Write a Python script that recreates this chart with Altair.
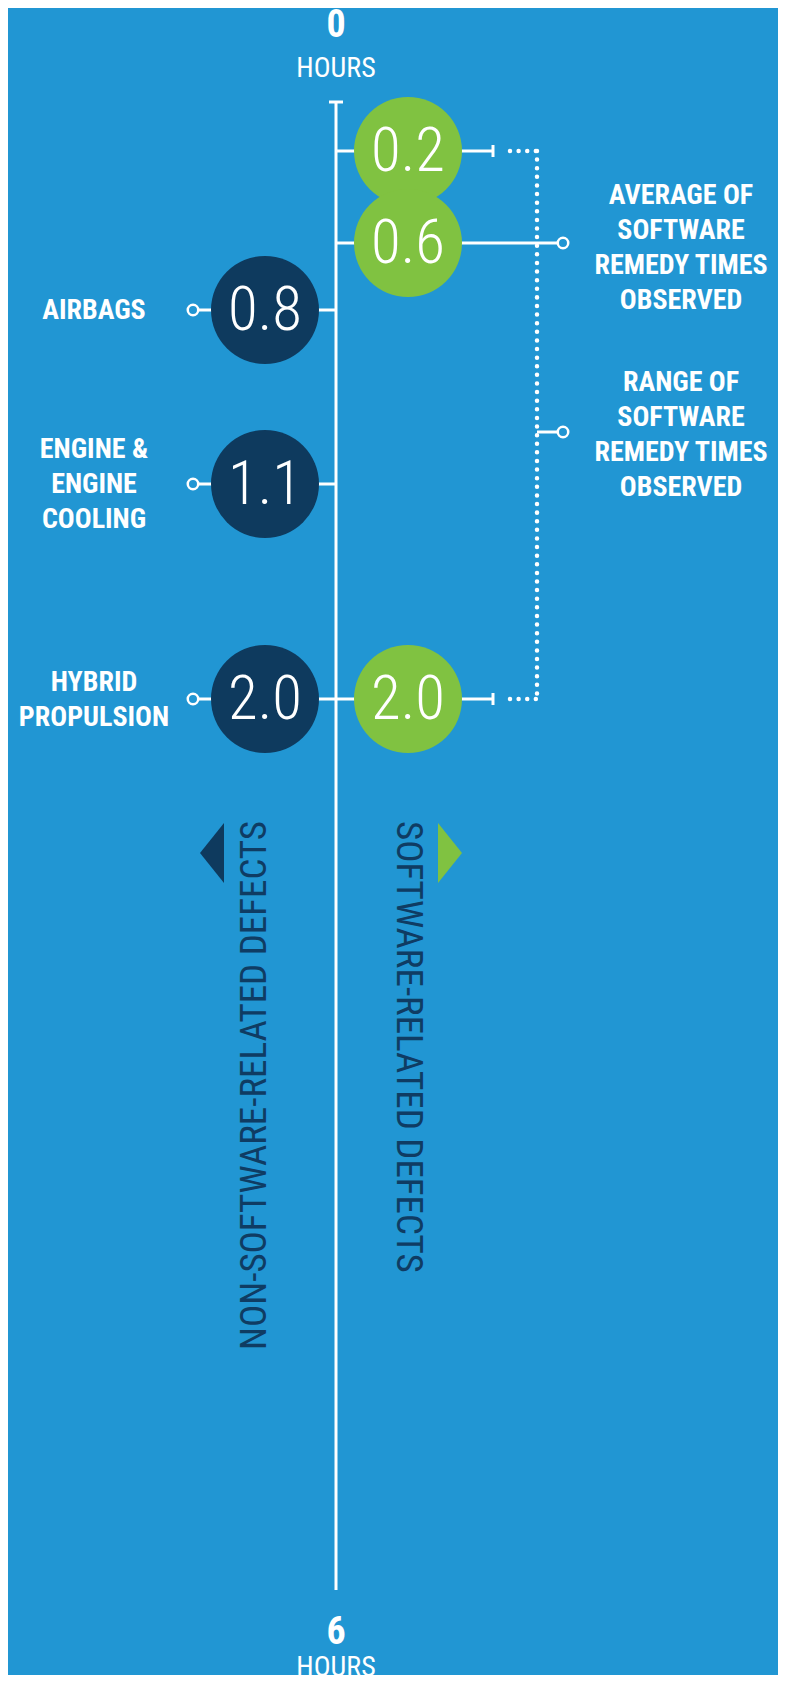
import altair as alt
import pandas as pd

# ---- data ----
non_sw_labels = ["AIRBAGS", "ENGINE &\nENGINE\nCOOLING", "HYBRID\nPROPULSION"]
non_sw_values = [0.8, 1.1, 2.0]
sw_values = [0.2, 0.6, 2.0]
sw_roles = ["min", "avg", "max"]
axis_ends = [0, 6]
axis_end_labels = ["0", "6"]
unit_label = "HOURS"
avg_note = "AVERAGE OF\nSOFTWARE\nREMEDY TIMES\nOBSERVED"
range_note = "RANGE OF\nSOFTWARE\nREMEDY TIMES\nOBSERVED"
left_title = "NON-SOFTWARE-RELATED DEFECTS"
right_title = "SOFTWARE-RELATED DEFECTS"

# ---- styles ----
BG = "#2196d3"
NAVY = "#0e3a5e"
GREEN = "#80c241"
TITLE_C = "#0f3c63"
COND = "Roboto Condensed, DejaVu Sans Condensed, Liberation Sans Narrow, Roboto, sans-serif"
LH = 35
CIRCLE = 11664   # Vega circle: diameter = sqrt(size)
DOT = 110

yscale = alt.Scale(domain=[0, 0.2, 0.6, 0.8, 1.1, 2.0, 6],
                   range=[94, 143, 235, 302, 476, 691, 1582],
                   zero=False, nice=False)


def Y(f="v"):
    return alt.Y(f"{f}:Q", scale=yscale, axis=None)


def block_dy(text):
    return -(text.count("\n")) * LH / 2


axis_df = pd.DataFrame({"v": [axis_ends[0]], "v2": [axis_ends[1]]})
ends_df = pd.DataFrame({"v": axis_ends, "label": axis_end_labels, "unit": [unit_label] * 2})
ns_df = pd.DataFrame({"v": non_sw_values, "label": non_sw_labels})
sw_df = pd.DataFrame({"v": sw_values, "role": sw_roles})
rng_df = pd.DataFrame({"v": [min(sw_values)], "v2": [max(sw_values)]})
note_df = pd.DataFrame({"avg": [avg_note], "rng": [range_note],
                        "lt": [left_title], "rt": [right_title]})

layers = []

# axis
layers.append(alt.Chart(axis_df).mark_rule(color="white", strokeWidth=3).encode(
    x=alt.value(328), y=Y(), y2="v2:Q"))
layers.append(alt.Chart(axis_df).mark_rule(color="white", strokeWidth=3).encode(
    x=alt.value(321), x2=alt.value(335), y=Y()))

# end labels
top = alt.Chart(ends_df).transform_filter("datum.v == 0")
bot = alt.Chart(ends_df).transform_filter("datum.v == 6")
layers.append(top.mark_text(font=COND, fontWeight="bold", fontSize=38, color="white",
                            baseline="middle", dy=-76).encode(x=alt.value(328), y=Y(), text="label:N"))
layers.append(top.mark_text(font=COND, fontSize=28, color="white",
                            baseline="middle", dy=-33).encode(x=alt.value(328), y=Y(), text="unit:N"))
layers.append(bot.mark_text(font=COND, fontWeight="bold", fontSize=38, color="white",
                            baseline="middle", dy=43).encode(x=alt.value(328), y=Y(), text="label:N"))
layers.append(bot.mark_text(font=COND, fontSize=28, color="white",
                            baseline="middle", dy=78).encode(x=alt.value(328), y=Y(), text="unit:N"))

# non-software side
ns = alt.Chart(ns_df)
layers.append(ns.mark_rule(color="white", strokeWidth=3).encode(
    x=alt.value(185), x2=alt.value(328), y=Y()))
layers.append(ns.mark_circle(size=CIRCLE, color=NAVY, opacity=1).encode(x=alt.value(257), y=Y()))
layers.append(ns.mark_text(font=COND, fontWeight=300, fontSize=61, color="white",
                           baseline="middle", dy=2).encode(
    x=alt.value(257), y=Y(), text=alt.Text("v:Q", format=".1f")))
layers.append(ns.mark_point(shape="circle", filled=True, fill=BG, stroke="white", strokeWidth=2.5,
                            size=DOT, opacity=1).encode(x=alt.value(185), y=Y()))
for lab in non_sw_labels:
    layers.append(ns.transform_filter(alt.datum.label == lab).mark_text(
        font=COND, fontWeight="bold", fontSize=28, color="white",
        lineBreak="\n", lineHeight=LH, baseline="middle", dy=block_dy(lab) + 1).encode(
        x=alt.value(86), y=Y(), text="label:N"))

# software side
sw = alt.Chart(sw_df)
ends_only = sw.transform_filter("datum.role != 'avg'")
avg_only = sw.transform_filter("datum.role == 'avg'")
layers.append(sw.mark_rule(color="white", strokeWidth=3).encode(
    x=alt.value(328), x2=alt.value(485), y=Y()))
layers.append(avg_only.mark_rule(color="white", strokeWidth=3).encode(
    x=alt.value(485), x2=alt.value(550), y=Y()))
layers.append(ends_only.mark_rule(color="white", strokeWidth=3, yOffset=-6, y2Offset=6).encode(
    x=alt.value(485), y=Y(), y2="v:Q"))
dots = dict(color="white", strokeWidth=4.5, strokeDash=[0.01, 8.6], strokeCap="round")
layers.append(ends_only.mark_rule(**dots).encode(x=alt.value(502), x2=alt.value(529), y=Y()))
layers.append(alt.Chart(rng_df).mark_rule(**dots).encode(x=alt.value(529), y=Y(), y2="v2:Q"))
layers.append(sw.mark_circle(size=CIRCLE, color=GREEN, opacity=1).encode(x=alt.value(400), y=Y()))
layers.append(sw.mark_text(font=COND, fontWeight=300, fontSize=61, color="white",
                           baseline="middle", dy=2).encode(
    x=alt.value(400), y=Y(), text=alt.Text("v:Q", format=".1f")))
layers.append(avg_only.mark_point(shape="circle", filled=True, fill=BG, stroke="white", strokeWidth=2.5,
                                  size=DOT, opacity=1).encode(x=alt.value(555), y=Y()))

# range connector + notes
note = alt.Chart(note_df)
layers.append(note.mark_rule(color="white", strokeWidth=3).encode(
    x=alt.value(529), x2=alt.value(550), y=alt.value(424)))
layers.append(note.mark_point(shape="circle", filled=True, fill=BG, stroke="white", strokeWidth=2.5,
                              size=DOT, opacity=1).encode(x=alt.value(555), y=alt.value(424)))
layers.append(note.mark_text(font=COND, fontWeight="bold", fontSize=28, color="white",
                             lineBreak="\n", lineHeight=LH, baseline="middle",
                             dy=block_dy(avg_note)).encode(
    x=alt.value(673), y=alt.value(240), text="avg:N"))
layers.append(note.mark_text(font=COND, fontWeight="bold", fontSize=28, color="white",
                             lineBreak="\n", lineHeight=LH, baseline="middle",
                             dy=block_dy(range_note)).encode(
    x=alt.value(673), y=alt.value(427), text="rng:N"))

# vertical titles and arrows
layers.append(note.mark_text(font=COND, fontWeight="normal", fontSize=37, color=TITLE_C, angle=270,
                             align="right", baseline="middle").encode(
    x=alt.value(247), y=alt.value(813), text="lt:N"))
layers.append(note.mark_text(font=COND, fontWeight="normal", fontSize=37, color=TITLE_C, angle=90,
                             align="left", baseline="middle").encode(
    x=alt.value(400), y=alt.value(813), text="rt:N"))
layers.append(note.mark_point(shape="M0.4,-1L-0.4,0L0.4,1Z", filled=True, color=NAVY, size=3600,
                              opacity=1).encode(x=alt.value(204), y=alt.value(845)))
layers.append(note.mark_point(shape="M-0.4,-1L0.4,0L-0.4,1Z", filled=True, color=GREEN, size=3600,
                              opacity=1).encode(x=alt.value(442), y=alt.value(845)))

chart = alt.layer(*layers).properties(
    width=770, height=1667, background=BG, padding=0,
    autosize=alt.AutoSizeParams(type="none"),
).configure_view(stroke=None)

chart.save("out.html", embed_options={"renderer": "svg", "actions": False})
